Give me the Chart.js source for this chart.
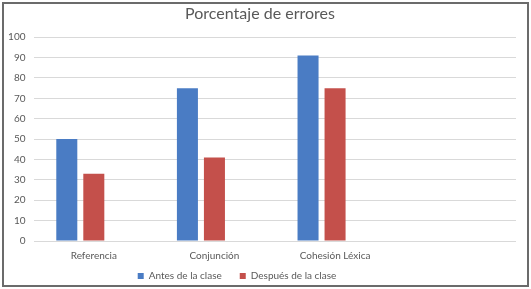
<!DOCTYPE html>
<html>
<head>
<meta charset="utf-8">
<script src="https://cdn.jsdelivr.net/npm/chart.js@4.4.0/dist/chart.umd.min.js"></script>
<style>
  html, body { margin: 0; padding: 0; background: #fff; }
  #wrap { position: relative; width: 531px; height: 289px; }
  #frame { position: absolute; left: 2px; top: 2px; width: 527px; height: 285px; box-sizing: border-box; border: 2px solid #6b6b6b; pointer-events: none; }
  canvas { display: block; }
</style>
</head>
<body>
<div id="wrap">
  <canvas id="c" width="531" height="289"></canvas>
  <div id="frame"></div>
</div>
<script>
const categories = ["Referencia", "Conjunción", "Cohesión Léxica", ""];
const seriesNames = ["Antes de la clase", "Después de la clase", ""];
const antes = [50, 75, 91, null];
const despues = [33, 41, 75, null];
const serie3 = [null, null, null, null];
const yTicks = [0, 10, 20, 30, 40, 50, 60, 70, 80, 90, 100];

const FONT = "Lato, 'Open Sans', sans-serif";

// let the x tick labels extend into the legend's (empty) top padding,
// and nudge legend / title to the reference placement
const layoutTweak = {
  id: 'layoutTweak',
  afterLayout(chart) {
    const x = chart.scales.x;
    x.bottom = x.top + 24;
    const lg = chart.legend;
    lg.left -= 21; lg.right -= 21;
    const t = chart.titleBlock;
    if (t) { t.left += 2; t.right += 2; }
  }
};

new Chart(document.getElementById('c'), {
  type: 'bar',
  data: {
    labels: categories,
    datasets: [
      { label: seriesNames[0], data: antes, backgroundColor: '#4a7cc4', borderWidth: 0 },
      { label: seriesNames[1], data: despues, backgroundColor: '#c4504b', borderWidth: 0 },
      { label: seriesNames[2], data: serie3, backgroundColor: '#9bbb59', borderWidth: 0 }
    ]
  },
  plugins: [layoutTweak],
  options: {
    responsive: false,
    animation: false,
    devicePixelRatio: 1,
    categoryPercentage: 0.672,
    barPercentage: 0.778,
    layout: { padding: { left: 0, right: 15, top: 0, bottom: -2 } },
    plugins: {
      title: {
        display: true,
        text: 'Porcentaje de errores',
        color: '#595959',
        font: { family: FONT, size: 16, weight: 'normal' },
        padding: { top: 4, bottom: 14 }
      },
      legend: {
        position: 'bottom',
        labels: {
          color: '#595959',
          font: { family: FONT, size: 10 },
          boxWidth: 6,
          boxHeight: 6,
          padding: 18,
          filter: item => item.text !== ''
        }
      },
      tooltip: { enabled: false }
    },
    scales: {
      x: {
        afterFit: s => { s.height = 12; },
        ticks: {
          color: '#595959',
          font: { family: FONT, size: 10 },
          maxRotation: 0,
          autoSkip: false,
          padding: 9
        },
        grid: { display: false, drawTicks: false, tickLength: 0 },
        border: { display: false }
      },
      y: {
        min: 0,
        max: 100,
        afterBuildTicks: s => { s.ticks = yTicks.map(v => ({ value: v })); },
        afterFit: s => { s.width = 33.5; },
        ticks: {
          color: '#595959',
          font: { family: FONT, size: 10 },
          padding: 8
        },
        grid: { color: '#d9d9d9', drawTicks: false, lineWidth: 1 },
        border: { display: false }
      }
    }
  }
});
</script>
</body>
</html>
